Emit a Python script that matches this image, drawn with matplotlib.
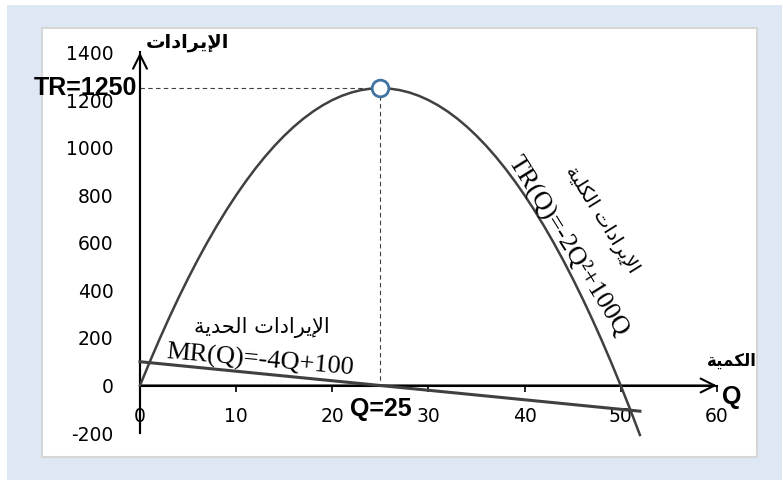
import numpy as np
import matplotlib
matplotlib.use('Agg')
import matplotlib.pyplot as plt
from matplotlib.patches import Rectangle

# total revenue TR(Q) = -2Q^2 + 100Q
q_tr = list(range(0, 53))
tr = [0, 98, 192, 282, 368, 450, 528, 602, 672, 738, 800, 858, 912, 962, 1008, 1050, 1088, 1122, 1152, 1178,
      1200, 1218, 1232, 1242, 1248, 1250, 1248, 1242, 1232, 1218, 1200, 1178, 1152, 1122, 1088, 1050, 1008, 962,
      912, 858, 800, 738, 672, 602, 528, 450, 368, 282, 192, 98, 0, -102, -208]

# marginal revenue MR(Q) = -4Q + 100
q_mr = [0, 25, 52]
mr = [100, 0, -108]

# maximum point
q_max = 25
tr_max = 1250

x_ticks = [0, 10, 20, 30, 40, 50, 60]
y_ticks = [-200, 0, 200, 400, 600, 800, 1000, 1200, 1400]

# arabic text, pre-shaped presentation forms in visual order
rev_label = '\uFE95\uFE8D\uFEA9\uFE8D\uFEAE\uFEF3\uFEF9\uFE8D'      # الإيرادات
qty_label = '\uFE94\uFEF4\uFEE4\uFEDC\uFEDF\uFE8D'                  # الكمية
tr_ar = '\uFE94\uFEF4\uFEE0\uFEDC\uFEDF\uFE8D ' + rev_label         # الإيرادات الكلية
mr_ar = '\uFE94\uFEF3\uFEAA\uFEA4\uFEDF\uFE8D ' + rev_label         # الإيرادات الحدية

W, H = 783, 480
fig = plt.figure(figsize=(W / 100, H / 100), dpi=100)
fig.patch.set_facecolor('white')

# background panels (pixel based)
def fr(x0, y0, x1, y1):
    return (x0 / W, 1 - y1 / H), (x1 - x0) / W, (y1 - y0) / H

xy, w, h = fr(7, 5, 782, 480)
fig.add_artist(Rectangle(xy, w, h, transform=fig.transFigure, facecolor='#dde8f4', edgecolor='none', zorder=-3))
xy, w, h = fr(42, 28, 757, 457)
fig.add_artist(Rectangle(xy, w, h, transform=fig.transFigure, facecolor='white', edgecolor='#d6d6d6', lw=1.5, zorder=-2))

ax = fig.add_axes([0, 0, 1, 1])
ax.patch.set_visible(False)
px_x = 9.614   # px per unit Q
px_y = 0.23786  # px per unit TR
x0, y0 = 140, 385.5
ax.set_xlim(-x0 / px_x, (W - x0) / px_x)
ax.set_ylim(-(H - y0) / px_y, y0 / px_y)

for s in ['top', 'right']:
    ax.spines[s].set_visible(False)
ax.spines['bottom'].set_position(('data', 0))
ax.spines['left'].set_position(('data', 0))
ax.spines['bottom'].set_bounds(0, 60)
ax.spines['left'].set_bounds(-200, 1400)
for s in ['bottom', 'left']:
    ax.spines[s].set_linewidth(1.5)
    ax.spines[s].set_color('black')

ax.set_xticks(x_ticks)
ax.set_yticks(y_ticks)
ax.set_xticklabels([str(t) for t in x_ticks])
ax.set_yticklabels([str(t) for t in y_ticks])
ax.tick_params(axis='x', direction='out', length=4.5, width=1.2, pad=11, labelsize=13.5)
ax.tick_params(axis='y', length=0, pad=19, labelsize=13.5)

# arrow heads on the axes
ax.annotate('', xy=(60, 0), xytext=(0, 0),
            arrowprops=dict(arrowstyle='->', lw=1.5, color='black', shrinkA=0, shrinkB=0, mutation_scale=25))
ax.annotate('', xy=(0, 1400), xytext=(0, -200),
            arrowprops=dict(arrowstyle='->', lw=1.5, color='black', shrinkA=0, shrinkB=0, mutation_scale=25))

# curves
ax.plot(q_tr, tr, color='#404040', lw=1.8, zorder=3)
ax.plot(q_mr, mr, color='#404040', lw=2.2, zorder=3)

# guide lines to the max point
ax.plot([0, q_max], [tr_max, tr_max], color='#404040', lw=0.8, ls=(0, (4, 3)), zorder=2)
ax.plot([q_max, q_max], [tr_max, 0], color='#404040', lw=0.8, ls=(0, (4, 3)), zorder=2)
ax.plot([q_max], [tr_max], 'o', ms=12, mfc='white', mec='#4172a0', mew=2, zorder=4)

bold = dict(family='Liberation Sans', weight='bold')
ax.annotate('TR=1250', xy=(0, tr_max), xytext=(-2, 0), textcoords='offset points',
            ha='right', va='center', fontsize=18, **bold)
ax.annotate('Q=25', xy=(q_max, 0), xytext=(0, -17), textcoords='offset points',
            ha='center', va='center', fontsize=18, **bold)
ax.annotate('Q', xy=(60, 0), xytext=(11, -8), textcoords='offset points',
            ha='center', va='center', fontsize=18, **bold)

ax.annotate(rev_label, xy=(0, 1400), xytext=(34, 7.5), textcoords='offset points',
            ha='center', va='center', fontsize=14, family='DejaVu Sans', weight='bold')
ax.annotate(qty_label, xy=(60, 0), xytext=(11, 18), textcoords='offset points',
            ha='center', va='center', fontsize=12, family='DejaVu Sans', weight='bold')

# curve labels
ax.text(44.6, 588, 'TR(Q)=-2Q\u00b2+100Q', rotation=-58, rotation_mode='anchor',
        ha='center', va='center', fontsize=19, family='Liberation Serif')
ax.text(48.0, 694, tr_ar, rotation=-58, rotation_mode='anchor',
        ha='center', va='center', fontsize=14, family='DejaVu Sans')
ax.text(12.5, 105, 'MR(Q)=-4Q+100', rotation=-5, rotation_mode='anchor',
        ha='center', va='center', fontsize=19, family='Liberation Serif')
ax.text(12.7, 245, mr_ar, ha='center', va='center', fontsize=15, family='DejaVu Sans')

fig.savefig('out.png', dpi=100)
